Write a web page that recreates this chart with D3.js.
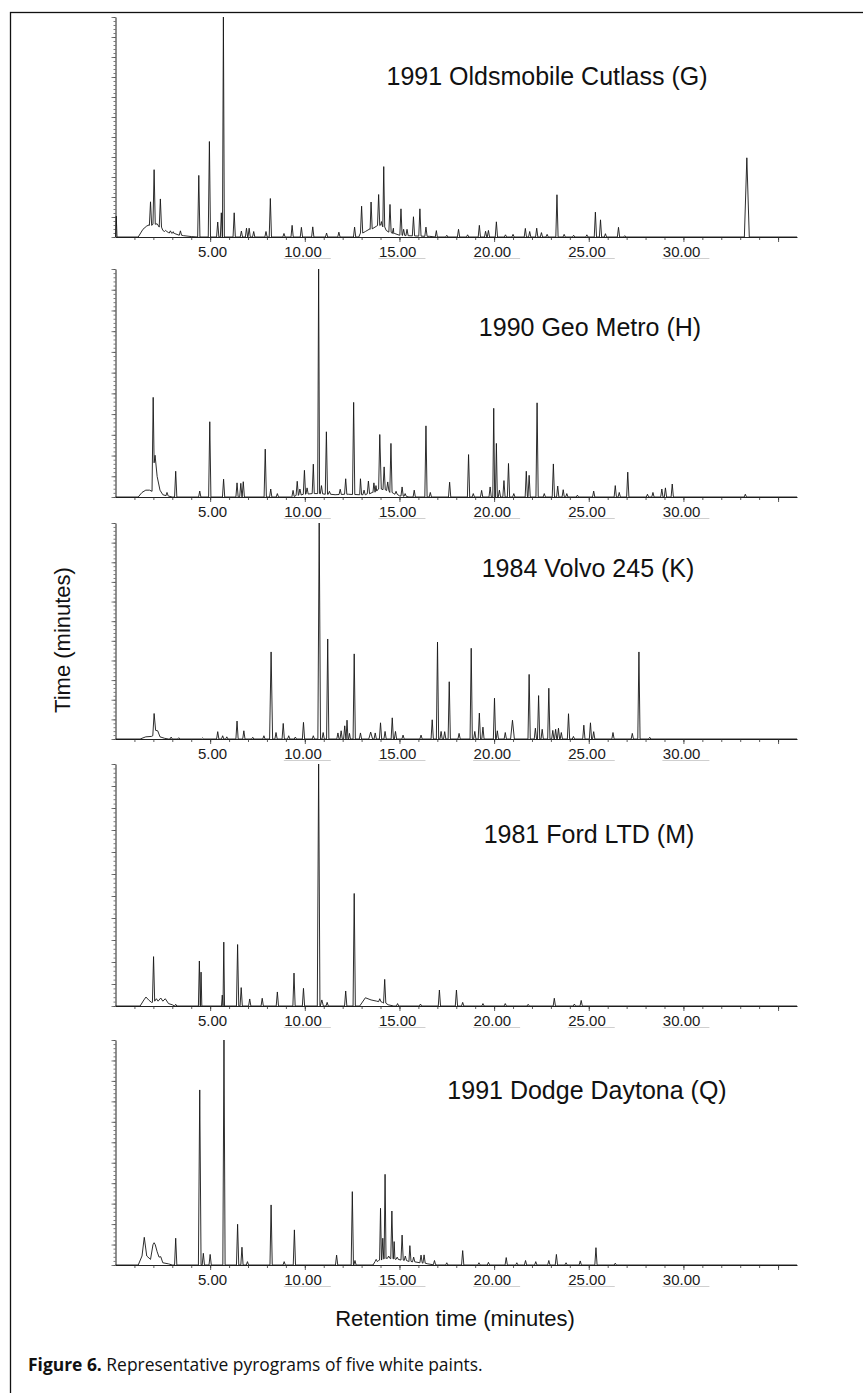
<!DOCTYPE html>
<html>
<head>
<meta charset="utf-8">
<script src="https://cdn.jsdelivr.net/npm/d3@7"></script>
<style>
  body { margin: 0; background: #fff; }
  svg { display: block; }
</style>
</head>
<body>
<svg id="chart" width="863" height="1393"></svg>
<script>
// ---- data: peaks are [time, height %, base %, half width] ----
const timeTicks = [5, 10, 15, 20, 25, 30];
const tickLabels = ["5.00", "10.00", "15.00", "20.00", "25.00", "30.00"];
const titles = ["1991 Oldsmobile Cutlass (G)", "1990 Geo Metro (H)", "1984 Volvo 245 (K)",
                "1981 Ford LTD (M)", "1991 Dodge Daytona (Q)"];

// 1991 Oldsmobile Cutlass (G)
const humpG = [[0,0],[1.2,0],[1.45,3.5],[1.65,5],[1.78,5.5],[2.2,6],[2.5,3],[2.8,2],[3.1,1.5],[3.6,0.6],[4.0,0.2],
  [12.85,0],[13.2,2.5],[13.45,3.5],[13.8,5],[14.0,5.5],[14.3,3],[14.7,1.5],[15.0,0.8],[16.6,0.3],[17,0],[36,0]];
const peaksG = [[0.04,9.5,0,0.04],
  [1.85,16,5.3],[2.04,30.6,5.8],[2.37,17.3,4.5],[2.65,3,2.5],[2.9,2.8,1.8],[3.05,2.4,1.6],[3.43,2.8,0.8],
  [4.40,28],[4.96,43.4],[5.40,6.8],[5.59,11,0,0.05],[5.70,100,0,0.05],[6.27,11],[6.65,2.7],[6.92,4],[7.06,4],
  [7.3,2.5],[7.95,2.5],[8.18,17.5],[8.9,1.6],[9.33,5.3],[9.82,4.4],[10.42,4.6],[11.15,1.8],[11.8,2.2],[12.63,4.5],
  [13.0,14,1.8],[13.5,15.9,3.7],[13.9,19.3,5.2],[14.05,7,5.4,0.04],[14.17,32,4.6,0.05],[14.5,14.8,2.2],[14.68,4,1.6],
  [15.08,12.8,0.8],[15.22,3.5,0.7],[15.4,3.5,0.6],[15.74,9.2,0.5],[16.08,12.8,0.4],[16.4,4.5,0.3],
  [16.95,2.9],[17.5,0.8],[18.12,3.5],[18.6,1],[19.22,5.3],[19.55,2.6],[19.7,3],[20.12,6.9],[20.6,1],[21.0,1.2],
  [21.65,3.9],[21.88,2.5],[22.25,4],[22.5,2],[22.8,1.2],[23.32,19.2],[23.7,1.2],[24.2,0.8],[24.9,1],[25.35,11.3],
  [25.62,7.8],[25.88,1.5],[26.57,4.4],[26.9,0.6],[33.35,36,0,0.13]];

// 1990 Geo Metro (H)
const humpH = [[0,0],[1.2,0],[1.4,2],[1.6,3],[1.8,3],[1.93,2.5],[1.99,43.7],[2.04,15],[2.09,18.3],[2.2,9],[2.35,3],
  [2.5,1],[2.66,0.6],[2.8,0.4],[3.0,0],[9.3,0],[9.8,1.2],[10.5,1.5],[11.6,1],[12.3,1.2],[12.9,1],[13.2,1],[13.6,2],
  [13.9,3.5],[14.3,3],[14.7,1.5],[15.0,0.5],[15.5,0],[36,0]];
const peaksH = [[2.72,2,0.5],[3.18,11.3],[4.45,2.6],[4.98,33],[5.71,7.8],[6.42,6.2],[6.62,6],[6.75,6.7],[7.91,21],
  [8.2,3.5],[8.55,1.5],[9.38,2.9,0.2],[9.6,6.9,0.7],[9.74,3.5,0.9],[9.98,11.7,1.2],[10.12,4,1.3],[10.45,14.4,1.5],
  [10.73,100,1.5,0.05],[10.88,5,1.4],[11.14,28.6,1.2],[11.3,2.5,1.2],[11.87,3.4,1.1],[12.16,8,1.2],[12.58,41.5,1.1],
  [12.94,8,1],[13.13,3,1],[13.36,7,1.4],[13.65,6.2,2.1],[13.76,5,2.6,0.04],[13.96,27.4,3.5,0.08],[14.19,13.2,3.2],
  [14.38,6.6,2.8],[14.55,23.5,2],[14.82,2.5,1.2],[15.14,4.4,0.4],[15.3,1.5,0.3],[15.78,3],[16.4,31.2],[16.63,2],
  [17.65,6.5],[18.65,18.6],[18.9,1.5],[19.34,2.9],[19.79,4.4],[19.98,38.9,0,0.05],[20.12,23.5,0,0.05],[20.28,3],
  [20.52,7.2],[20.76,14.7],[21.04,1.5],[21.7,11.3],[21.85,9.5],[22.27,41.3],[22.65,1.5],[23.13,14.5],[23.36,4.8],
  [23.65,3.2],[23.84,1.5],[24.4,0.8],[25.26,2.6],[26.4,5],[26.61,2],[27.06,10.9],[28.1,1.2],[28.39,2],[28.86,3.5],
  [29.05,4],[29.41,5.7],[33.27,1.2]];

// 1984 Volvo 245 (K)
const humpK = [[0,0],[1.3,0],[1.6,1],[1.9,1.2],[1.97,1.5],[2.04,11.8],[2.12,4],[2.23,3.8],[2.35,1],[2.6,0.3],[2.8,0],[36,0]];
const peaksK = [[2.94,0.9],[3.34,0.6],[4.6,0.5],[5.4,3.4],[5.66,1.5],[5.88,1],[6.42,8.3],[6.78,3.8],[7.25,0.8],
  [7.84,1.5],[8.22,40.3,0,0.08],[8.48,3],[8.86,7.2],[9.15,1.5],[9.5,0.9],[9.93,7.7],[10.45,1.5],[10.76,100,0,0.07],
  [10.97,3],[11.21,46.3],[11.75,2.8],[11.92,3.8],[12.11,6.1],[12.23,8.7,0,0.05],[12.36,2.6,0,0.05],[12.61,39.4],
  [12.94,2.8],[13.48,3.2,0,0.1],[13.72,2.8],[14.0,7.5],[14.24,3.5],[14.62,9.8],[14.79,3.5],[15.19,1.8],[16.14,1.8],
  [16.73,8.9],[17.01,44.9],[17.2,3.5],[17.39,3.4],[17.63,26.5],[18.15,2.6],[18.79,42],[18.98,3.5],[19.22,12],
  [19.41,5.5],[20.02,18.9],[20.17,3.8],[20.59,3],[20.97,8.7,0,0.1],[21.85,29.9],[22.18,5],[22.35,20.1],[22.54,4.5],
  [22.89,23.5],[23.1,4],[23.25,4.5],[23.4,5],[23.55,3],[23.93,11.7],[24.19,1.2],[24.74,6.4],[25.09,7.5],[25.26,3.4],
  [26.28,3],[27.3,2.6],[27.65,40.3],[28.22,0.8]];

// 1981 Ford LTD (M)
const humpM = [[0,0],[1.3,0],[1.5,2.5],[1.61,3.7],[1.75,2.5],[1.9,1.5],[1.95,1.5],[2.01,20.4],[2.07,2],[2.16,3],
  [2.25,2],[2.39,3.3],[2.5,2],[2.63,3],[2.8,1],[3.0,0.5],[3.4,0],[12.9,0],[13.2,3.4],[13.5,2.5],[13.8,2],[14.1,1.5],
  [14.4,0.5],[14.7,0],[36,0]];
const peaksM = [[3.18,0.7],[4.43,18.6,0,0.05],[4.52,14,0,0.04],[5.64,4.5,0,0.04],[5.72,26.4,0,0.04],[6.45,25.4],
  [6.64,7.6],[7.09,2.9],[7.75,3.2],[8.55,5.8],[9.43,13.6],[9.93,7.3],[10.73,100,0,0.07],[10.9,2.5,0,0.08],[11.18,1.5],
  [12.16,6.2],[12.61,46.5],[13.96,3,1.8],[14.22,11,1.2],[14.9,1],[16.11,0.8],[17.11,6.6],[18.01,6.6],[18.34,1.5],
  [19.41,1],[20.59,1],[21.8,0.7],[23.18,3.2],[24.24,0.8],[24.6,2.3]];

// 1991 Dodge Daytona (Q)
const humpQ = [[0,0],[1.2,0],[1.4,4],[1.52,12.3],[1.65,4],[1.85,2.5],[1.98,9],[2.04,9.9],[2.1,9],[2.2,5.9],[2.3,3.5],
  [2.39,3.7],[2.5,1],[2.8,0.5],[3.0,0],[13.6,0],[13.9,2],[14.3,3],[14.8,2.5],[15.5,1.5],[16.5,0.5],[17,0],[36,0]];
const peaksQ = [[3.18,11.9],[4.45,77.8,0,0.07],[4.64,5.2],[5.0,4.7],[5.73,100,0,0.06],[6.45,18.1],[6.68,7.9],
  [6.97,1.5],[8.22,26.7],[8.91,1.5],[9.45,15.6],[11.68,4.4],[12.51,32.6],[12.65,2],[13.77,2.5,1.5],
  [14.0,25.2,2.2,0.05],[14.12,11.9,2.6,0.05],[14.24,40.3,2.9,0.05],[14.43,4,3],[14.6,24,2.8],[14.72,10.4,2.7,0.04],
  [14.88,3.5,2.5],[15.14,13.3,2.2],[15.31,4,2],[15.55,8.6,1.6],[15.75,3.5,1.4],[16.14,4.4,1],[16.3,4.5,0.8],
  [16.85,2,0.1],[17.5,1],[18.34,6.4],[19.2,1],[19.7,1.2],[20.64,3.3],[21.2,1],[21.66,2],[22.2,1.5],[22.89,2],
  [23.29,4.7],[23.8,1],[24.55,1.8],[25.38,7.7],[26.4,0.8]];

const series = [[peaksG, humpG], [peaksH, humpH], [peaksK, humpK], [peaksM, humpM], [peaksQ, humpQ]];

// ---- layout ----
const panels = [
  { top: 17,   bottom: 237,  tx: 547, ty: 85 },
  { top: 269,  bottom: 497,  tx: 590, ty: 336 },
  { top: 523,  bottom: 739,  tx: 588, ty: 577 },
  { top: 764,  bottom: 1006, tx: 589, ty: 843 },
  { top: 1040, bottom: 1265, tx: 587, ty: 1099 }
];

const svg = d3.select('#chart');
const font = '"Liberation Sans", Arial, Helvetica, sans-serif';

// frame round the figure
svg.append('rect')
  .attr('x', 10.5).attr('y', 12.5)
  .attr('width', 900).attr('height', 1400)
  .attr('fill', 'none')
  .attr('stroke', '#111')
  .attr('stroke-width', 1.3);

const x = d3.scaleLinear().domain([0, 36]).range([115.5, 797]);

function trace(peaks, hump) {
  const pts = hump.map(d => [d[0], d[1]]);
  peaks.forEach(([t, h, b = 0, w = 0.06]) => {
    pts.push([t - w, b], [t, h], [t + w, b]);
  });
  return pts.filter(d => d[0] >= 0).sort((a, b) => a[0] - b[0]);
}

panels.forEach((p, i) => {
  const g = svg.append('g');
  const y = d3.scaleLinear().domain([0, 100]).range([p.bottom, p.top]);

  // x axis: minor tick every minute, longer every five
  g.append('g')
    .attr('transform', `translate(0,${p.bottom})`)
    .call(d3.axisBottom(x).tickValues(d3.range(1, 36)).tickSize(3).tickSizeOuter(0).tickFormat(''))
    .call(a => a.select('.domain').attr('stroke', '#222').attr('stroke-width', 1))
    .call(a => a.selectAll('.tick line').attr('stroke', '#333').attr('stroke-width', 0.8));
  g.append('g')
    .attr('transform', `translate(0,${p.bottom})`)
    .call(d3.axisBottom(x).tickValues(d3.range(5, 36, 5)).tickSize(5).tickSizeOuter(0).tickFormat(''))
    .call(a => a.select('.domain').remove())
    .call(a => a.selectAll('.tick line').attr('stroke', '#333').attr('stroke-width', 0.8));

  // y axis ruler
  const yr = d3.scaleLinear().domain([0, 55]).range([p.bottom, p.top]);
  g.append('g')
    .attr('transform', `translate(${x(0)},0)`)
    .call(d3.axisLeft(yr).tickValues(d3.range(0, 56)).tickSize(2).tickSizeOuter(0).tickFormat(''))
    .call(a => a.select('.domain').attr('stroke', '#222').attr('stroke-width', 1))
    .call(a => a.selectAll('.tick line').attr('stroke', '#444').attr('stroke-width', 0.7));
  g.append('g')
    .attr('transform', `translate(${x(0)},0)`)
    .call(d3.axisLeft(yr).tickValues(d3.range(0, 56, 5)).tickSize(4).tickSizeOuter(0).tickFormat(''))
    .call(a => a.select('.domain').remove())
    .call(a => a.selectAll('.tick line').attr('stroke', '#444').attr('stroke-width', 0.7));

  // tick labels, with the faint rule under them as in the scan
  g.selectAll('.ulin')
    .data(timeTicks.slice(1))
    .enter().append('line')
    .attr('x1', d => x(d) - 21).attr('x2', d => x(d) + 26)
    .attr('y1', p.bottom + 21.5).attr('y2', p.bottom + 21.5)
    .attr('stroke', '#cfcfcf').attr('stroke-width', 1);
  g.selectAll('.lbl')
    .data(timeTicks)
    .enter().append('text')
    .attr('x', d => x(d) + 17)
    .attr('y', p.bottom + 20)
    .attr('text-anchor', 'end')
    .attr('font-family', font)
    .attr('font-size', '15px')
    .attr('fill', '#1a1a1a')
    .text((d, k) => tickLabels[k]);

  // trace
  const line = d3.line().x(d => x(d[0])).y(d => y(d[1]));
  g.append('path')
    .datum(trace(series[i][0], series[i][1]))
    .attr('fill', 'none')
    .attr('stroke', '#161616')
    .attr('stroke-width', 0.9)
    .attr('stroke-linejoin', 'round')
    .attr('d', line);

  g.append('text')
    .attr('x', p.tx).attr('y', p.ty)
    .attr('text-anchor', 'middle')
    .attr('font-family', font)
    .attr('font-size', '25px')
    .attr('fill', '#111')
    .text(titles[i]);
});

// axis titles
svg.append('text')
  .attr('transform', 'translate(70,640) rotate(-90)')
  .attr('text-anchor', 'middle')
  .attr('font-family', font)
  .attr('font-size', '22px')
  .attr('fill', '#111')
  .text('Time (minutes)');

svg.append('text')
  .attr('x', 455).attr('y', 1326)
  .attr('text-anchor', 'middle')
  .attr('font-family', font)
  .attr('font-size', '22px')
  .attr('fill', '#111')
  .text('Retention time (minutes)');

// caption
const cap = svg.append('text')
  .attr('x', 28).attr('y', 1371)
  .attr('font-family', '"Open Sans", "Noto Sans", sans-serif')
  .attr('font-size', '17px')
  .attr('fill', '#111');
cap.append('tspan').attr('font-weight', 'bold').text('Figure 6.');
cap.append('tspan').text(' Representative pyrograms of five white paints.');
const capW = cap.node().getComputedTextLength();
cap.attr('font-size', (17 * 455 / capW).toFixed(2) + 'px');
</script>
</body>
</html>
